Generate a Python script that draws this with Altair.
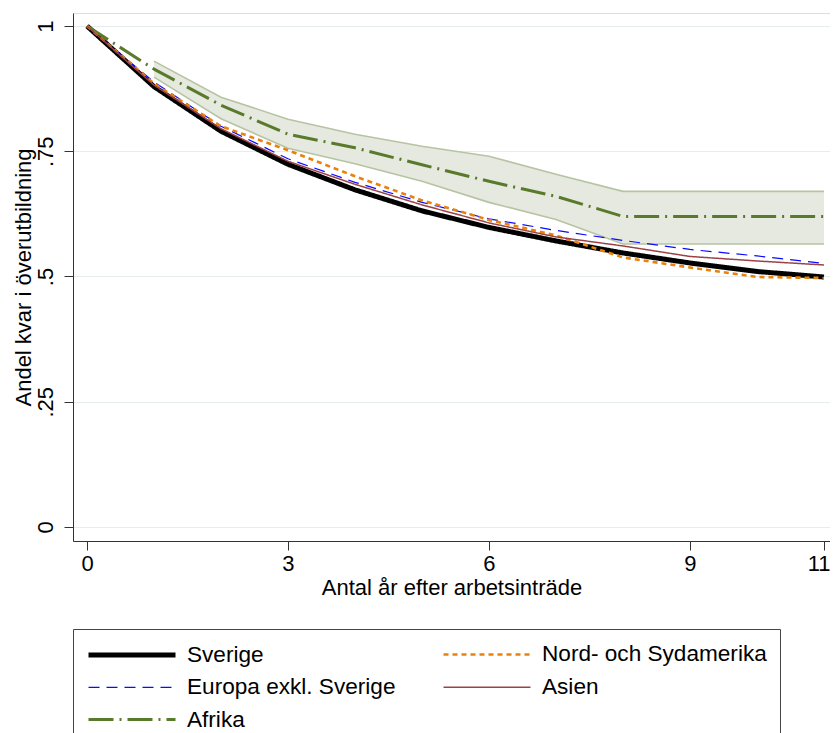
import altair as alt
import pandas as pd

years = list(range(12))
series_names = ["Sverige", "Europa exkl. Sverige", "Afrika", "Nord- och Sydamerika", "Asien"]
sverige = [1.0, 0.879, 0.790, 0.724, 0.673, 0.631, 0.598, 0.571, 0.547, 0.527, 0.510, 0.499]
europa = [1.0, 0.888, 0.800, 0.735, 0.688, 0.648, 0.615, 0.592, 0.572, 0.554, 0.541, 0.526]
afrika = [1.0, 0.914, 0.842, 0.784, 0.757, 0.723, 0.690, 0.660, 0.620, 0.620, 0.620, 0.620]
nord = [1.0, 0.885, 0.800, 0.752, 0.700, 0.652, 0.613, 0.582, 0.538, 0.518, 0.499, 0.497]
asien = [1.0, 0.882, 0.795, 0.730, 0.684, 0.643, 0.607, 0.579, 0.561, 0.540, 0.531, 0.523]
band_years = list(range(1, 12))
afrika_hi = [0.930, 0.858, 0.814, 0.784, 0.760, 0.740, 0.704, 0.670, 0.670, 0.670, 0.670]
afrika_lo = [0.898, 0.815, 0.756, 0.725, 0.690, 0.648, 0.614, 0.565, 0.565, 0.565, 0.565]

colors = ["#000000", "#0a0aff", "#5a7a2b", "#e8820c", "#9c4246"]
dashes = [[1, 0], [11, 7], [25, 6, 2, 6], [5, 4], [1, 0]]
widths = [5, 1.2, 3, 2.6, 1.5]

rows = []
for name, vals in zip(series_names, [sverige, europa, afrika, nord, asien]):
    for t, v in zip(years, vals):
        rows.append({"t": t, "v": v, "serie": name})
df = pd.DataFrame(rows)
band = pd.DataFrame({"t": band_years, "hi": afrika_hi, "lo": afrika_lo})

xscale = alt.Scale(domain=[-0.209, 11.09], nice=False, zero=False)
yscale = alt.Scale(domain=[-0.028, 1.026], nice=False, zero=False)

FONT = "Liberation Sans"
FS = 22

xaxis = alt.Axis(values=[0, 3, 6, 9, 11], format="d", grid=False, tickSize=9, tickColor="#333",
                 domainColor="#333", labelFontSize=FS, labelFont=FONT, labelColor="#000",
                 labelPadding=3, title="Antal år efter arbetsinträde", titleFont=FONT,
                 titleFontSize=FS, titleFontWeight="normal", titleColor="#000", titlePadding=3,
                 labelFlush=7, labelFlushOffset=6)
yaxis = alt.Axis(values=[0, 0.25, 0.5, 0.75, 1], grid=True, gridColor="#e4ecee", gridWidth=1.2,
                 tickSize=9, tickColor="#333", domainColor="#333",
                 labelExpr="replace(format(datum.value, '.2~f'), '0.', '.')",
                 labelAngle=-90, labelAlign="center", labelBaseline="bottom",
                 labelFontSize=FS, labelFont=FONT, labelColor="#000", labelPadding=7,
                 title="Andel kvar i överutbildning", titleFont=FONT, titleFontSize=FS,
                 titleFontWeight="normal", titleColor="#000", titlePadding=-1)

area = alt.Chart(band).mark_area(color="#e6e9df", opacity=1).encode(
    x=alt.X("t:Q", scale=xscale, axis=xaxis),
    y=alt.Y("lo:Q", scale=yscale, axis=yaxis),
    y2="hi:Q",
)
hi_line = alt.Chart(band).mark_line(color="#b6c4a3", strokeWidth=1.6).encode(
    x=alt.X("t:Q", scale=xscale), y=alt.Y("hi:Q", scale=yscale))
lo_line = alt.Chart(band).mark_line(color="#b6c4a3", strokeWidth=1.6).encode(
    x=alt.X("t:Q", scale=xscale), y=alt.Y("lo:Q", scale=yscale))

legend = alt.Legend(orient="none", legendX=0, legendY=616, columns=2, title=None,
                    symbolType="M-1,0L7.7,0", symbolSize=400, labelOffset=76,
                    labelFont=FONT, labelFontSize=22.6, labelColor="#000", labelLimit=0,
                    strokeColor="#444", fillColor="#ffffff", padding=13,
                    rowPadding=9, columnPadding=42)

lines = alt.Chart(df).mark_line(strokeCap="butt", strokeJoin="round").encode(
    x=alt.X("t:Q", scale=xscale),
    y=alt.Y("v:Q", scale=yscale),
    color=alt.Color("serie:N", scale=alt.Scale(domain=series_names, range=colors),
                    sort=series_names, legend=legend),
    strokeDash=alt.StrokeDash("serie:N", scale=alt.Scale(domain=series_names, range=dashes),
                              sort=series_names, legend=legend),
    strokeWidth=alt.StrokeWidth("serie:N", scale=alt.Scale(type="ordinal", domain=series_names, range=widths),
                                sort=series_names, legend=legend),
    order=alt.Order("t:Q"),
)

chart = alt.layer(area, hi_line, lo_line, lines).properties(
    width=757, height=528,
    autosize=alt.AutoSizeParams(type="none"),
    padding={"left": 65, "top": 5, "right": 0, "bottom": 192},
).configure_view(stroke=None).configure(background="#ffffff")

chart.save("out.html", embed_options={"renderer": "svg", "actions": False})
